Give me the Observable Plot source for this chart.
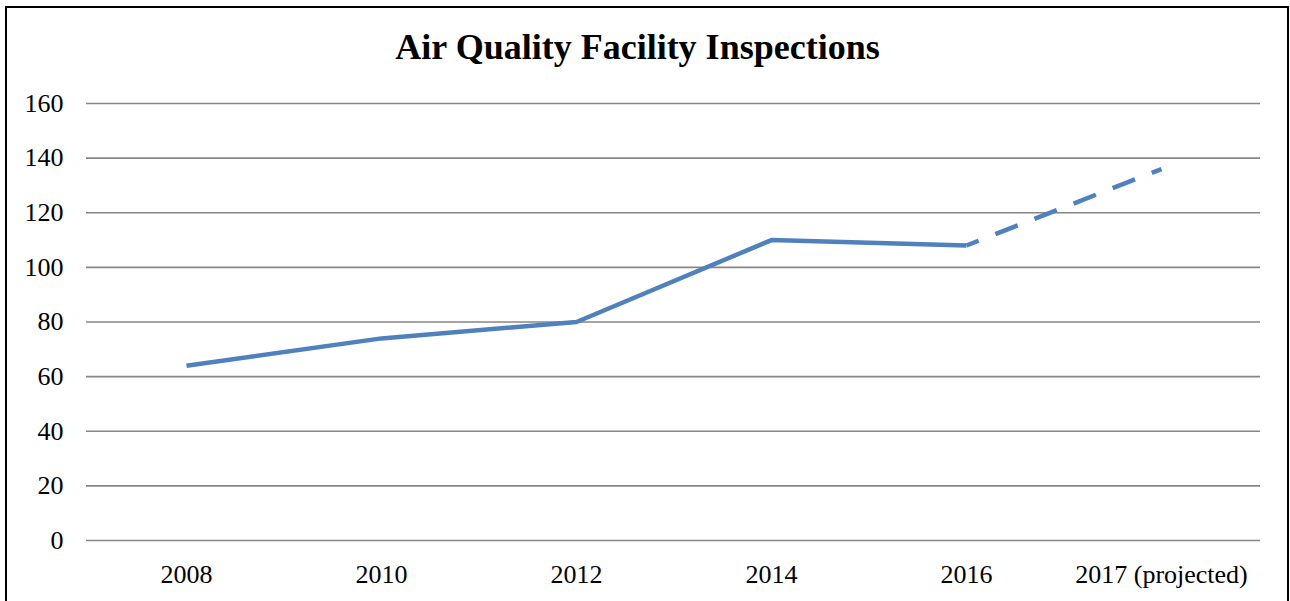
<!DOCTYPE html>
<html><head><meta charset="utf-8">
<script src="https://cdn.jsdelivr.net/npm/d3@7"></script>
<script src="https://cdn.jsdelivr.net/npm/@observablehq/plot@0.6"></script>
<style>
html,body{margin:0;padding:0;background:#fff;overflow:hidden;}
#wrap{position:relative;width:1290px;height:601px;overflow:hidden;}
#frame{position:absolute;left:5px;top:6px;width:1284px;height:640px;border:2px solid #000;box-sizing:border-box;z-index:2;}
#title{position:absolute;left:0;top:29px;width:1275px;text-align:center;font-family:'Liberation Serif','Times New Roman',serif;font-weight:bold;font-size:36px;line-height:36px;color:#000;z-index:3;}
#chart{position:absolute;left:0;top:0;z-index:1;}
#chart svg, #chart svg text{font-family:'Liberation Serif','Times New Roman',serif !important;}
</style>
</head><body>
<div id="wrap">
  <div id="chart"></div>
  <div id="title">Air Quality Facility Inspections</div>
  <div id="frame"></div>
</div>
<script>
const categories = ["2008","2010","2012","2014","2016","2017 (projected)"];
const inspections = [64,74,80,110,108,136];
const yTicks = [0,20,40,60,80,100,120,140,160];

const rows = categories.map((c,i)=>({year:c, value:inspections[i], i}));
const actual = rows.filter(d=>d.i<=4);
const projected = rows.filter(d=>d.i>=4);
const serif = "Liberation Serif, Times New Roman, serif";

const chart = Plot.plot({
  width:1290, height:601,
  marginTop:103, marginBottom:61, marginLeft:86, marginRight:30,
  style:{fontFamily:serif, fontSize:"26px", color:"#000", background:"transparent"},
  x:{type:"point", domain:categories, padding:0.5, axis:null},
  y:{domain:[0,160], axis:null},
  marks:[
    Plot.ruleY(yTicks, {stroke:"#868686", strokeWidth:1.6}),
    Plot.axisY({ticks:yTicks, tickSize:0, tickPadding:23, fontSize:26, fontFamily:serif, fill:"#000", label:null}),
    Plot.axisX({tickSize:0, tickPadding:24, fontSize:26, fontFamily:serif, fill:"#000", label:null}),
    Plot.line(actual, {x:"year", y:"value", stroke:"#4F81BD", strokeWidth:4.5, strokeLinejoin:"round", strokeLinecap:"butt"}),
    Plot.line(projected, {x:"year", y:"value", stroke:"#4F81BD", strokeWidth:4.5, strokeDasharray:"24,18", strokeDashoffset:11, strokeLinecap:"butt"})
  ]
});
document.getElementById("chart").appendChild(chart);
</script>
</body></html>
